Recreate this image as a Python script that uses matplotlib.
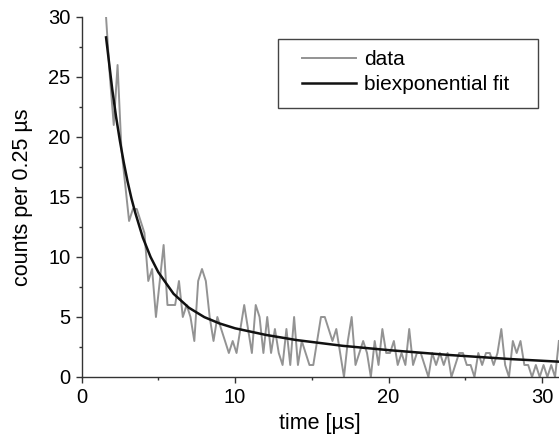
import numpy as np
import matplotlib
matplotlib.use("Agg")
import matplotlib.pyplot as plt
from matplotlib.patches import Rectangle
from matplotlib.ticker import MultipleLocator

plt.rcParams['font.family'] = ['Liberation Sans', 'DejaVu Sans']

# counts per 0.25 us bin
t_start = 1.6
bin_width = 0.25
counts = [30, 25, 21, 26, 19, 16, 13, 14, 14, 13,
          12, 8, 9, 5, 8, 11, 6, 6, 6, 8,
          5, 6, 5, 3, 8, 9, 8, 5, 3, 5,
          4, 3, 2, 3, 2, 4, 6, 4, 2, 6,
          5, 2, 5, 2, 4, 2, 1, 4, 1, 5,
          1, 3, 2, 1, 1, 3, 5, 5, 4, 3,
          4, 2, 0, 3, 5, 1, 2, 3, 2, 0,
          3, 1, 4, 2, 2, 3, 1, 2, 1, 4,
          1, 2, 2, 1, 0, 2, 1, 2, 1, 2,
          0, 1, 2, 2, 1, 1, 0, 2, 1, 2,
          2, 1, 2, 4, 1, 0, 3, 2, 3, 1,
          1, 0, 1, 0, 1, 0, 1, 0, 3]
time = t_start + bin_width * np.arange(len(counts))

# biexponential fit curve
fit_t = [1.6, 2.0, 2.25, 2.5, 2.75, 3.0, 3.25, 3.5, 4.0, 4.5, 5.0, 6.0, 7.0,
         8.0, 9.0, 10.0, 12.0, 14.0, 17.0, 20.0, 24.0, 28.0, 31.2]
fit_y = [28.3, 24.0, 21.7, 19.7, 17.9, 16.3, 14.9, 13.7, 11.6, 10.0, 8.74, 6.93, 5.77,
         4.99, 4.46, 4.06, 3.51, 3.08, 2.6, 2.24, 1.83, 1.49, 1.27]

W, H = 559, 437
fig = plt.figure(figsize=(W / 100, H / 100), dpi=100)
ax = fig.add_axes([81.5 / W, 60 / H, (W - 81.5) / W, 360 / H])

ax.plot(time, counts, color='#939393', lw=1.4, label='data')
ax.plot(fit_t, fit_y, color='#111111', lw=1.8, label='biexponential fit')

ax.set_xlim(0, (W - 81.5) / 15.35)
ax.set_ylim(0, 30)
ax.xaxis.set_major_locator(MultipleLocator(10))
ax.xaxis.set_minor_locator(MultipleLocator(5))
ax.yaxis.set_major_locator(MultipleLocator(5))
ax.yaxis.set_minor_locator(MultipleLocator(2.5))
ax.tick_params(which='major', direction='out', length=4, width=1, color='#333333',
               labelsize=14.5, pad=4)
ax.tick_params(which='minor', direction='out', length=2.5, width=1, color='#333333')

for side in ['top', 'right']:
    ax.spines[side].set_visible(False)
for side in ['left', 'bottom']:
    ax.spines[side].set_color('#333333')
    ax.spines[side].set_linewidth(1)

ax.set_xlabel('time [µs]', fontsize=15.5, labelpad=4)
ax.set_ylabel('counts per 0.25 µs', fontsize=15.5, labelpad=11)

# legend box
fig.patches.append(Rectangle((278 / W, 1 - 108 / H), 260 / W, 69 / H,
                             transform=fig.transFigure, fill=False,
                             edgecolor='#444444', lw=1))
leg = fig.legend(loc='upper left', bbox_to_anchor=(302 / W, 1 - 50 / H),
                 frameon=False, fontsize=15, handlelength=2.6,
                 handletextpad=0.4, borderpad=0, borderaxespad=0,
                 labelspacing=0.3)

fig.savefig('out.png', dpi=100)
